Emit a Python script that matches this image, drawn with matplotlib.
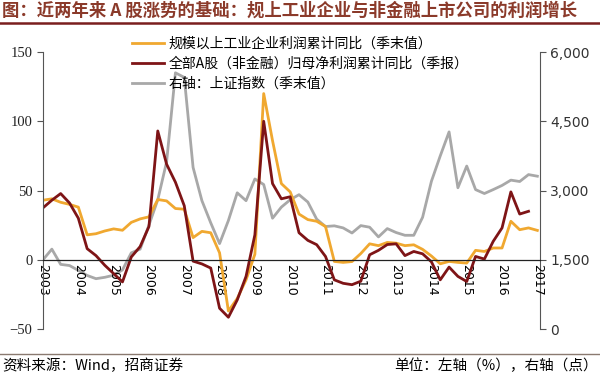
import matplotlib.pyplot as plt
from matplotlib.ticker import FuncFormatter

plt.rcParams['font.family'] = ['Noto Sans CJK SC', 'DejaVu Sans']

# 季度序号：0 = 2003Q1 ... 56 = 2017Q1
years = list(range(2003, 2018))

# 规模以上工业企业利润累计同比（季末值），%
industry = [43, 44, 41.5, 40, 38, 18, 18.8, 20.8, 22.3, 21.3,
            27, 29.5, 31, 43.5, 42.5, 37, 36.5, 16, 20.5, 19.5,
            5, -37, -28, -14.5, 4, 120, 86, 55, 49, 33,
            29, 27.8, 24, -1.2, -1.9, -1.3, 4.5, 11.5, 10.2, 12.5,
            12, 10.2, 10.8, 7.5, 2.7, -2.9, -1.2, -1.9, -2.4, 6.8,
            6, 8.5, 8.5, 27.8, 21.7, 23, 21.2]

# 全部A股（非金融）归母净利润累计同比（季报），%
ashare = [37.5, 43, 47.8, 41, 30, 8, 3, -4, -10, -16,
          2, 9.5, 24, 93, 69, 56, 39, -1, -3, -6,
          -35, -41.5, -29, -12, 18, 100, 55, 44, 45.5, 19.5,
          14, 10.9, 2.4, -14.5, -17, -18, -15.5, 3.6, 6.8, 11,
          11.5, 3, 6, 4.3, -1.5, -14.5, -5.3, -12, -15.7, 2.4,
          0.5, 13.3, 23, 49, 33, 35]

# 上证指数（季末值），点
shindex = [1500, 1730, 1400, 1375, 1270, 1160, 1090, 1120, 1165, 1280,
           1650, 1730, 2250, 2800, 3620, 5550, 5450, 3500, 2780, 2300,
           1850, 2350, 2950, 2780, 3250, 3130, 2400, 2640, 2800, 2910,
           2750, 2380, 2220, 2235, 2190, 2080, 2240, 2205, 1995, 2175,
           2090, 2030, 2030, 2420, 3200, 3750, 4270, 3060, 3530, 3020,
           2935, 3020, 3110, 3225, 3195, 3345, 3310]

labels = ['规模以上工业企业利润累计同比（季末值）',
          '全部A股（非金融）归母净利润累计同比（季报）',
          '右轴：上证指数（季末值）']

c_yellow = '#F0A830'
c_red = '#7E1416'
c_gray = '#A8A8A8'

fig = plt.figure(figsize=(6, 3.77), dpi=100)
ax = fig.add_axes([0.0717, 0.1273, 0.8283, 0.7347])
ax2 = ax.twinx()

ax2.plot(range(len(shindex)), shindex, color=c_gray, lw=2.0, label=labels[2])
l1, = ax.plot(range(len(industry)), industry, color=c_yellow, lw=2.0, label=labels[0])
l2, = ax.plot(range(len(ashare)), ashare, color=c_red, lw=2.0, label=labels[1])

ax.set_zorder(ax2.get_zorder() + 1)
ax.patch.set_visible(False)

# 先放置横轴位置（会重置刻度），再设置刻度标签
ax.spines['bottom'].set_position(('data', 0))
ax.spines['bottom'].set_linewidth(0.9)
ax.spines['bottom'].set_color('#222222')

ax.set_xlim(0, 56.3)
ax.set_ylim(-50, 150)
ax2.set_ylim(0, 6000)
ax.set_yticks([-50, 0, 50, 100, 150])
ax2.set_yticks([0, 1500, 3000, 4500, 6000])
ax2.yaxis.set_major_formatter(FuncFormatter(lambda v, p: f'{int(v):,}'))

ax.set_xticks([4 * i for i in range(len(years))])
ax.set_xticklabels([str(y) for y in years])
ax.tick_params(axis='x', length=0, pad=3, labelrotation=270, labelsize=9)
for t in ax.get_xticklabels():
    t.set_family('DejaVu Sans')
    t.set_va('top')
    t.set_ha('center')

for a in (ax, ax2):
    a.spines['top'].set_visible(False)
    a.spines['left'].set_color('#555555')
    a.spines['right'].set_color('#555555')
ax2.spines['bottom'].set_visible(False)
ax.spines['right'].set_visible(False)
ax2.spines['left'].set_visible(False)

ax.tick_params(axis='y', labelsize=10.5, length=4, color='#555555', labelcolor='#222222')
ax2.tick_params(axis='y', labelsize=10, length=4, color='#555555', labelcolor='#333333')
for t in ax.get_yticklabels():
    t.set_family('Liberation Serif')
for t in ax2.get_yticklabels():
    t.set_family('DejaVu Sans')

g_handle = plt.Line2D([], [], color=c_gray, lw=2.0)
ax.legend([l1, l2, g_handle], labels, loc='upper left', bbox_to_anchor=(0.167, 1.075),
          frameon=False, fontsize=10, handlelength=2.3, handletextpad=0.35,
          labelspacing=0.42, borderaxespad=0)

# 标题与分隔线
fig.text(0.003, 0.972, '图：近两年来 A 股涨势的基础：规上工业企业与非金融上市公司的利润增长',
         fontsize=12.5, fontweight='bold', color='#8B3A2A', va='center', ha='left')
fig.add_artist(plt.Line2D([0, 1], [0.94, 0.94], color='#7A1E1E', lw=1.8))
fig.add_artist(plt.Line2D([0, 1], [0.062, 0.062], color='#8a7a70', lw=1.0))
fig.text(0.003, 0.029, '资料来源：Wind，招商证券', fontsize=10.5, va='center', ha='left')
fig.text(0.997, 0.029, '单位：左轴（%），右轴（点）', fontsize=10.5, va='center', ha='right')

fig.savefig('out.png', dpi=100)
